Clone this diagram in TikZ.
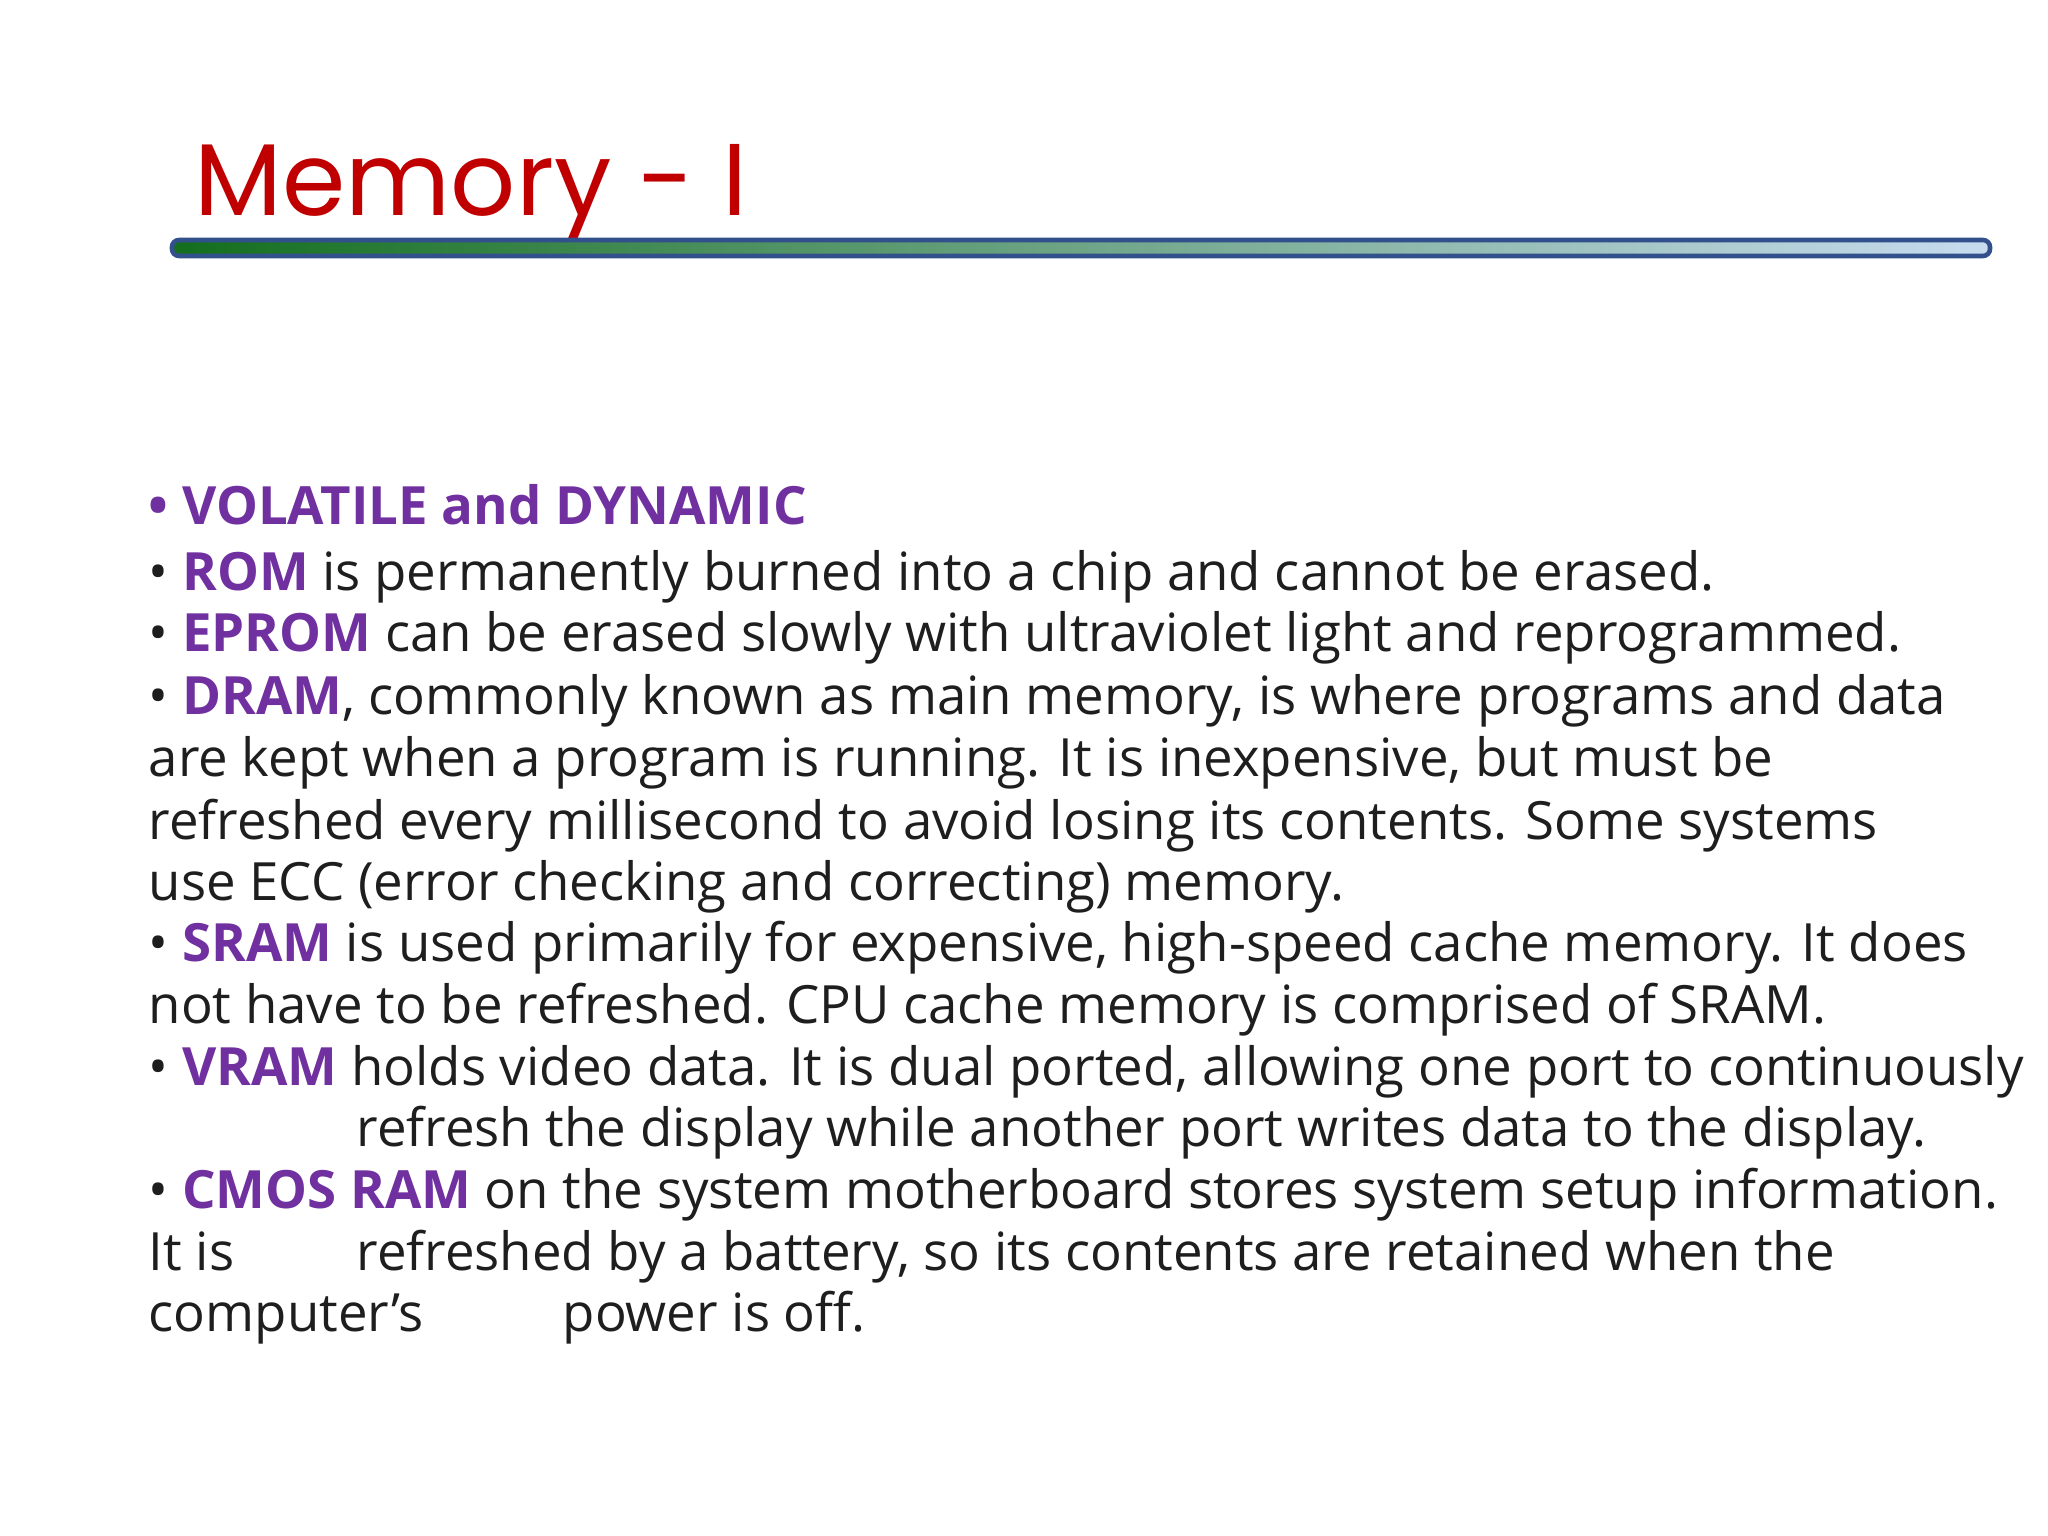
\documentclass[tikz,border=0pt]{standalone}
\usepackage{fontspec}
\setmainfont{Open Sans}
\newfontfamily\titlefont{Poppins}
\definecolor{kw}{RGB}{112,48,160}
\definecolor{tred}{RGB}{192,0,0}
\definecolor{txt}{RGB}{30,30,30}
\definecolor{bargreen}{RGB}{20,110,30}
\definecolor{barblue}{RGB}{200,220,240}
\definecolor{barline}{RGB}{50,80,140}
\begin{document}
\begin{tikzpicture}[x=0.01cm,y=0.01cm,
  ln/.style={anchor=base west,inner sep=0,text=txt,font=\fontsize{15}{18}\selectfont},
  k/.style={}]
\useasboundingbox (0,0) rectangle (2048,1536);
\node[anchor=base west,inner sep=0,text=tred,font=\titlefont\fontsize{29}{34}\selectfont] (title) at (194,1536-216) {Memory - I};
\shade[left color=bargreen,right color=barblue,draw=barline,line width=1.3pt,rounded corners=2pt] (172,1536-256) rectangle (1990,1536-240);
\newcommand\kwd[1]{\textcolor{kw}{\textbf{#1}}}
\node[ln] (l1) at (148,1536-525) {\kwd{• VOLATILE and DYNAMIC}};
\node[ln] (l2) at (148,1536-591) {• \kwd{ROM} is permanently burned into a chip and cannot be erased.};
\node[ln] (l3) at (148,1536-652) {• \kwd{EPROM} can be erased slowly with ultraviolet light and reprogrammed.};
\node[ln] (l4) at (148,1536-715) {• \kwd{DRAM}, commonly known as main memory, is where programs and data};
\node[ln] (l5) at (148,1536-777) {are kept when a program is running. It is inexpensive, but must be};
\node[ln] (l6) at (148,1536-840) {refreshed every millisecond to avoid losing its contents. Some systems};
\node[ln] (l7) at (148,1536-901) {use ECC (error checking and correcting) memory.};
\node[ln] (l8) at (148,1536-962) {• \kwd{SRAM} is used primarily for expensive, high-speed cache memory. It does};
\node[ln] (l9) at (148,1536-1024) {not have to be refreshed. CPU cache memory is comprised of SRAM.};
\node[ln] (l10) at (148,1536-1086) {• \kwd{VRAM} holds video data. It is dual ported, allowing one port to continuously};
\node[ln] (l11) at (356,1536-1147) {refresh the display while another port writes data to the display.};
\node[ln] (l12) at (148,1536-1209) {• \kwd{CMOS RAM} on the system motherboard stores system setup information.};
\node[ln] (l13a) at (148,1536-1271) {It is};
\node[ln] (l13b) at (356,1536-1271) {refreshed by a battery, so its contents are retained when the};
\node[ln] (l14a) at (148,1536-1332) {computer’s};
\node[ln] (l14b) at (562,1536-1332) {power is off.};
\end{tikzpicture}
\end{document}
